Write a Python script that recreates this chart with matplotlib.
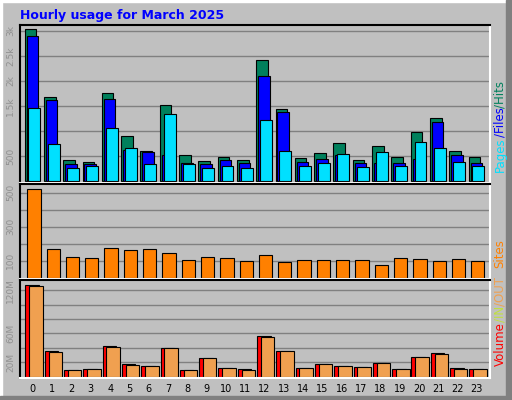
import matplotlib
matplotlib.use("Agg")
import matplotlib.pyplot as plt
from matplotlib.patches import Rectangle
import numpy as np

hours = list(range(24))
hits = [3050, 1690, 430, 390, 1760, 910, 610, 1530, 530, 400, 490, 430,
        2430, 1450, 470, 570, 770, 430, 710, 490, 990, 1270, 610, 490]
files = [2900, 1630, 350, 340, 1640, 620, 590, 520, 370, 350, 430, 370,
         2110, 1390, 390, 450, 520, 370, 370, 370, 450, 1190, 530, 370]
pages = [1460, 750, 270, 300, 1070, 670, 350, 1350, 350, 270, 300, 270,
         1230, 610, 310, 370, 550, 290, 590, 310, 790, 660, 390, 310]
sites = [518, 171, 124, 118, 176, 165, 171, 147, 106, 124, 118, 100,
         135, 94, 106, 106, 106, 106, 76, 118, 112, 100, 112, 100]
vol_in = [126.5, 35.3, 8.8, 10.2, 42.8, 17.7, 14.4, 40, 8.8, 25.6, 11.6, 10.2,
          56.7, 35.3, 11.6, 17.7, 14.4, 13, 19, 10.2, 27, 33, 11.6, 10.2]
vol_out = [125, 34, 8.8, 10.2, 41.4, 16.3, 14.4, 40, 8.8, 25.6, 11.6, 8.8,
           55.3, 35.3, 11.6, 17.7, 14.4, 13, 19, 10.2, 27, 31.6, 10.2, 10.2]

W, H = 512, 400
BG = "#c0c0c0"
fig = plt.figure(figsize=(5.12, 4.0), dpi=100, facecolor=BG)

# 3d frame
def px_rect(x, y, w, h, color):
    fig.patches.append(Rectangle((x / W, 1 - (y + h) / H), w / W, h / H,
                                 transform=fig.transFigure, color=color, zorder=0))
px_rect(0, 0, 512, 2, "white")
px_rect(0, 0, 2, 400, "white")
px_rect(506, 0, 6, 400, "#808080")
px_rect(0, 396, 512, 4, "#808080")

fig.text(20 / W, 1 - 16 / H, "Hourly usage for March 2025", color="#0000ff",
         fontsize=9, fontweight="bold", ha="left", va="center")

x = np.array(hours)
xl = (-0.67, 23.68)

def make_ax(top, bottom):
    ax = fig.add_axes([20 / W, 1 - bottom / H, 470 / W, (bottom - top) / H])
    ax.set_facecolor(BG)
    ax.set_xlim(*xl)
    ax.spines["left"].set_color("black")
    ax.spines["top"].set_color("black")
    ax.spines["right"].set_color("white")
    ax.spines["bottom"].set_color("white")
    for s in ax.spines.values():
        s.set_linewidth(1.5)
    ax.set_axisbelow(True)
    ax.yaxis.grid(True, color="#808080", linewidth=1)
    ax.tick_params(length=0, labelsize=6.5, colors="#909090")
    plt.setp(ax.get_yticklabels(), rotation=90, va="center")
    ax.set_xticks([])
    return ax

ek = dict(edgecolor="black", linewidth=0.8)

ax1 = make_ax(25, 183)
ax1.set_ylim(-40, 3120)
ax1.bar(x - 0.13, hits, 0.6, color="#00805c", **ek)
ax1.bar(x - 0.03, files, 0.6, color="#0000ff", **ek)
ax1.bar(x + 0.08, pages, 0.62, color="#00e0ff", **ek)
ax1.set_yticks([500, 1000, 1500, 2000, 2500, 3000])
ax1.set_yticklabels(["500", "", "1.5k", "2k", "2.5k", "3k"], rotation=90, va="center")

ax2 = make_ax(184, 279)
ax2.set_ylim(-8, 550)
ax2.bar(x + 0.05, sites, 0.69, color="#ff8000", **ek)
ax2.set_yticks([100, 200, 300, 400, 500])
ax2.set_yticklabels(["100", "", "300", "", "500"], rotation=90, va="center")

ax3 = make_ax(280, 378)
ax3.set_ylim(-2, 134)
ax3.bar(x - 0.04, vol_in, 0.7, color="#ff0000", **ek)
ax3.bar(x + 0.16, vol_out, 0.7, color="#f0a050", **ek)
ax3.set_yticks([20, 40, 60, 80, 100, 120])
ax3.set_yticklabels(["20M", "", "60M", "", "", "120M"], rotation=90, va="center")
ax3.set_xticks(hours)
ax3.set_xticklabels([str(h) for h in hours], fontsize=7, color="black")
ax3.tick_params(axis="x", pad=4)

def vlabel(y_px, parts):
    # parts listed bottom to top
    y = 1 - y_px / H
    for text, col in parts:
        t = fig.text(500 / W, y, text, color=col, rotation=90, fontsize=8.5,
                     ha="center", va="bottom")
        fig.canvas.draw()
        bb = t.get_window_extent()
        y += bb.height / fig.bbox.height

vlabel(172, [("Pages", "#00e0ff"), ("/Files", "#0000ff"), ("/Hits", "#00805c")])
vlabel(268, [("Sites", "#ff8000")])
vlabel(366, [("Volume", "#ff0000"), ("/IN", "#c0e040"), ("/OUT", "#f0a050")])

fig.savefig("out.png", dpi=100, facecolor=BG)
